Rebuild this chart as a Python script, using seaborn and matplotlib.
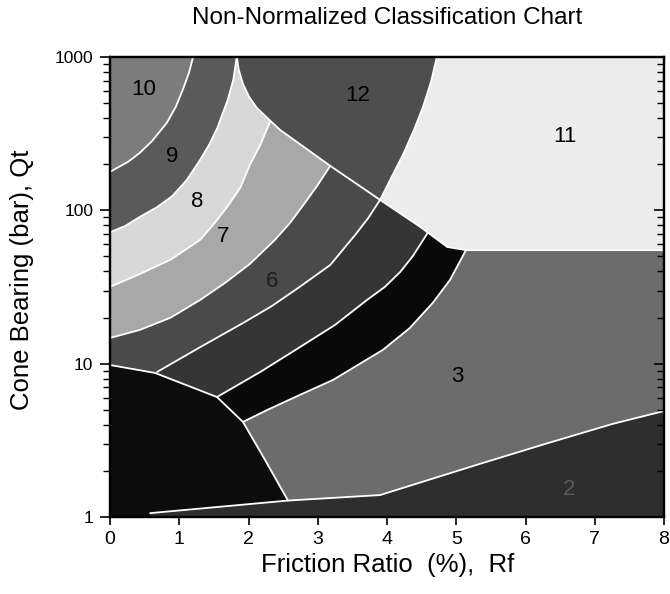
import matplotlib
matplotlib.use("Agg")
import matplotlib.pyplot as plt
from matplotlib.ticker import NullFormatter
import seaborn as sns

sns.set_theme(style="ticks")
plt.rcParams["font.family"] = ["Liberation Sans", "DejaVu Sans"]

# Zone boundary curves: friction ratio Rf (%) against cone bearing Qt (bar)
zone1_top_rf = [0.00, 0.65, 1.545, 1.92, 2.24, 2.57]
zone1_top_qt = [9.8, 8.70, 6.06, 4.17, 2.35, 1.28]

organic_rf = [0.58, 2.57, 3.90, 5.34, 6.31, 7.26, 8.00]
organic_qt = [1.06, 1.28, 1.39, 2.22, 3.02, 4.05, 4.91]

b43_rf = [1.92, 2.27, 2.74, 3.22, 3.94, 4.33, 4.66, 4.91, 5.14]
b43_qt = [4.17, 4.99, 6.25, 7.83, 12.3, 17.1, 24.9, 35.2, 55.0]

b54_rf = [1.545, 2.17, 2.74, 3.25, 3.71, 3.97, 4.19, 4.375, 4.59]
b54_qt = [6.06, 8.83, 12.8, 17.9, 26.0, 31.7, 39.6, 50.4, 71.6]

b65_rf = [0.68, 1.30, 1.92, 2.34, 2.74, 3.18, 3.54, 3.73, 3.90]
b65_qt = [8.83, 12.8, 18.4, 23.8, 31.7, 44.0, 69.1, 89.2, 117]

b76_rf = [0.00, 0.43, 0.87, 1.30, 1.66, 2.02, 2.38, 2.60, 2.79, 2.99, 3.18]
b76_qt = [14.7, 16.6, 19.9, 26.0, 33.6, 44.7, 64.1, 82.8, 108, 144, 195]

b87_rf = [0.00, 0.40, 0.87, 1.30, 1.50, 1.69, 1.88, 2.02, 2.17, 2.31]
b87_qt = [31.7, 37.9, 47.5, 64.1, 81.5, 105, 140, 198, 267, 377]

b98_rf = [0.00, 0.22, 0.43, 0.68, 0.90, 1.11, 1.30, 1.43, 1.55, 1.63, 1.70,
          1.78, 1.83]
b98_qt = [72, 79.1, 90.6, 105, 124, 158, 213, 267, 345, 432, 525, 709, 1000]

b109_rf = [0.00, 0.10, 0.26, 0.43, 0.61, 0.82, 0.95, 1.05, 1.14, 1.20]
b109_qt = [178, 189, 207, 237, 284, 372, 473, 610, 788, 1000]

z12_left_rf = [1.83, 1.86, 1.92, 2.01, 2.12, 2.27, 2.455, 3.18, 3.90]
z12_left_qt = [1000, 824, 668, 549, 466, 401, 335, 195, 117]

z12_right_rf = [4.72, 4.635, 4.52, 4.39, 4.23, 4.06, 3.90]
z12_right_qt = [1000, 688, 473, 335, 230, 163, 117]

z11_low_rf = [3.90, 4.48, 4.87, 5.14, 8.00]
z11_low_qt = [117, 78.0, 57.7, 55.0, 55.0]

# Zone numbers and where they are written
zone_names = ["10", "9", "8", "7", "6", "12", "11", "3", "2"]
name_rf = [0.48, 0.90, 1.26, 1.63, 2.34, 3.57, 6.57, 5.01, 6.63]
name_qt = [610, 223, 115, 67.1, 34.1, 557, 301, 8.19, 1.50]
name_colors = ["black", "black", "black", "black", "#1e1e1e",
               "black", "black", "black", "#5a5a5a"]

# Grey shade of every zone
zone_grey = {1: "#0c0c0c", 2: "#2e2e2e", 3: "#6c6c6c", 4: "#0a0a0a",
             5: "#353535", 6: "#4a4a4a", 7: "#a8a8a8", 8: "#d8d8d8",
             9: "#5a5a5a", 10: "#7c7c7c", 11: "#ececec", 12: "#4e4e4e"}

xtick_vals = [0, 1, 2, 3, 4, 5, 6, 7, 8]
ytick_vals = [1, 10, 100, 1000]
ytick_labels = ["1", "10", "100", "1000"]

RF_MAX, QT_MIN, QT_MAX = 8.0, 1.0, 1000.0

fig = plt.figure(figsize=(6.7, 5.94), dpi=100)
ax = fig.add_axes([110 / 670, 1 - 517 / 594, 554 / 670, 460 / 594])
ax.set_yscale("log")
ax.set_xlim(0, RF_MAX)
ax.set_ylim(QT_MIN, QT_MAX)
ax.set_facecolor(zone_grey[3])


def pts(rf, qt):
    return list(zip(rf, qt))


def fill(points, zone, z):
    xs, ys = zip(*points)
    ax.fill(xs, ys, color=zone_grey[zone], lw=0, zorder=z)


# organic soils below the lower line
fill(pts(organic_rf, organic_qt) + [(RF_MAX, QT_MIN), (organic_rf[0], QT_MIN)], 2, 1)

# concentric bands, painted from the outside inwards
bands = [(b43_rf, b43_qt, 4), (b54_rf, b54_qt, 5), (b65_rf, b65_qt, 6),
         (b76_rf, b76_qt, 7), (b87_rf, b87_qt, 8), (b98_rf, b98_qt, 9),
         (b109_rf, b109_qt, 10)]
for rf, qt, zone in bands:
    poly = pts(rf, qt) + [(rf[-1], QT_MAX), (0, QT_MAX)]
    if rf[0] > 0:
        poly = [(0, QT_MIN)] + poly
    fill(poly, zone, 2)

# sensitive fine grained soils
lower = [p for p in pts(organic_rf, organic_qt) if p[0] < zone1_top_rf[-1]]
fill([(0, QT_MIN)] + pts(zone1_top_rf, zone1_top_qt) + lower[::-1]
     + [(organic_rf[0], QT_MIN)], 1, 3)

# zone 12 and zone 11 at the top
fill(pts(z12_left_rf, z12_left_qt) + pts(z12_right_rf, z12_right_qt)[::-1], 12, 4)
fill(pts(z12_right_rf, z12_right_qt) + pts(z11_low_rf, z11_low_qt)
     + [(RF_MAX, QT_MAX)], 11, 4)

# white boundary lines
curves = [(zone1_top_rf, zone1_top_qt), (organic_rf, organic_qt),
          (b43_rf, b43_qt), (b54_rf, b54_qt), (b65_rf, b65_qt),
          (b76_rf, b76_qt), (b87_rf, b87_qt), (b98_rf, b98_qt),
          (b109_rf, b109_qt), (z12_left_rf, z12_left_qt),
          (z12_right_rf, z12_right_qt), (z11_low_rf, z11_low_qt)]
for rf, qt in curves:
    sns.lineplot(x=rf, y=qt, sort=False, estimator=None, color="white",
                 linewidth=1.3, ax=ax, zorder=5)

for name, x, y, c in zip(zone_names, name_rf, name_qt, name_colors):
    ax.text(x, y, name, ha="center", va="center", fontsize=16, color=c, zorder=6)

ax.set_xlim(0, RF_MAX)
ax.set_ylim(QT_MIN, QT_MAX)
ax.set_xticks(xtick_vals)
ax.set_xticklabels([str(v) for v in xtick_vals])
ax.set_yticks(ytick_vals)
ax.set_yticklabels(ytick_labels)
ax.yaxis.set_minor_formatter(NullFormatter())
ax.tick_params(axis="x", which="both", direction="out", length=6, width=1.2,
               color="black", labelsize=14, labelcolor="black", pad=4,
               top=False)
ax.tick_params(axis="y", which="major", direction="out", length=7, width=1.2,
               color="black", labelsize=12.5, labelcolor="black", pad=5,
               right=False)
ax.tick_params(axis="y", which="minor", direction="out", length=5, width=1.0,
               color="black", right=False)
ax.set_xlabel("")
ax.set_ylabel("")

# inward ticks on the right edge
ax2 = ax.twinx()
ax2.set_yscale("log")
ax2.set_ylim(QT_MIN, QT_MAX)
ax2.set_yticks(ytick_vals)
ax2.yaxis.set_minor_formatter(NullFormatter())
ax2.tick_params(axis="y", which="major", direction="in", length=7, width=1.2,
                color="black", labelright=False)
ax2.tick_params(axis="y", which="minor", direction="in", length=5, width=1.0,
                color="black")

for a in (ax, ax2):
    for s in a.spines.values():
        s.set_color("black")
        s.set_linewidth(1.6)
        s.set_zorder(10)

fig.text(387 / 670, 1 - 18 / 594, "Non-Normalized Classification Chart",
         ha="center", va="center", fontsize=17.5, color="black")
fig.text(388 / 670, 1 - 565 / 594, "Friction Ratio  (%),  Rf",
         ha="center", va="center", fontsize=18.5, color="black")
fig.text(22 / 670, 1 - 280 / 594, "Cone Bearing (bar), Qt", rotation=90,
         ha="center", va="center", fontsize=18.5, color="black")

fig.savefig("out.png", dpi=100, facecolor="white")
